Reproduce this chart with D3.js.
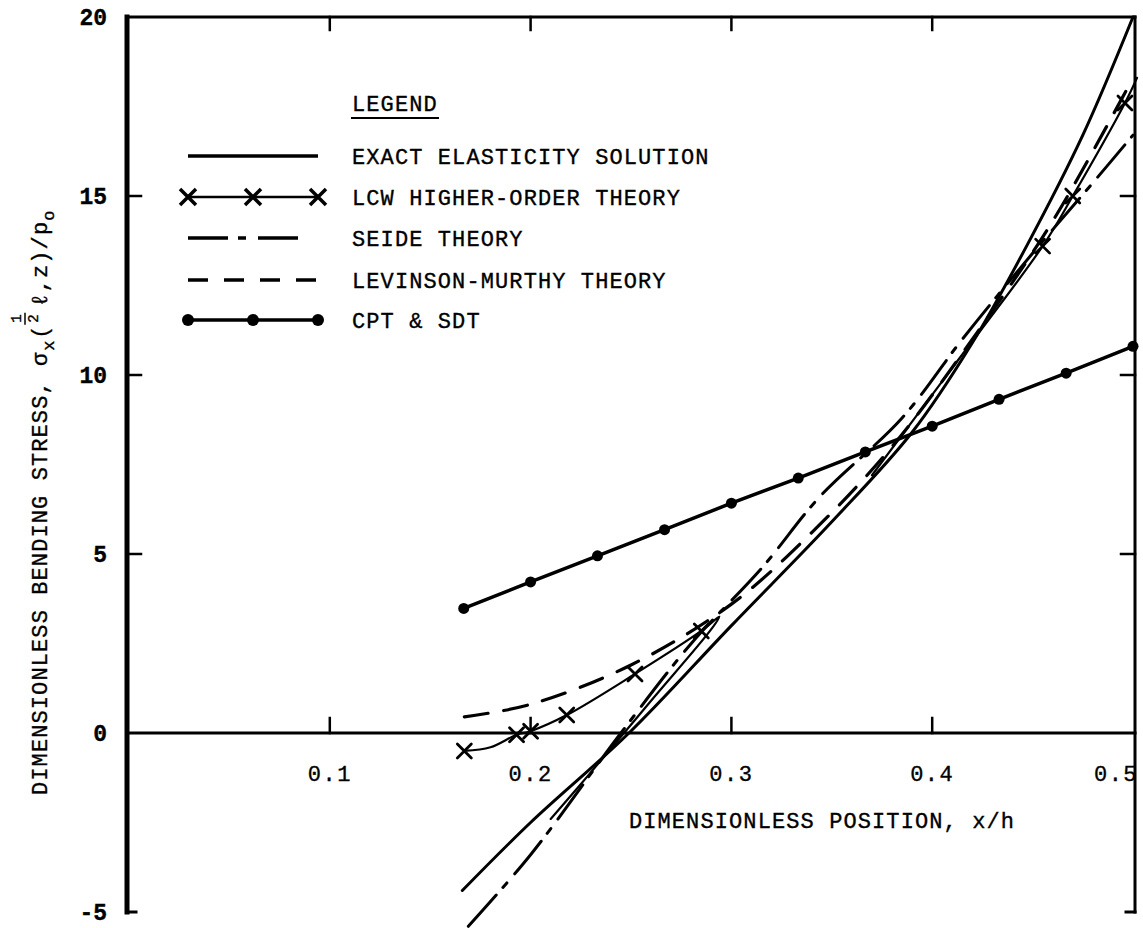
<!DOCTYPE html>
<html>
<head>
<meta charset="utf-8">
<script src="https://d3js.org/d3.v7.min.js"></script>
<style>
  body { margin: 0; background: #fff; }
  text { font-family: "Liberation Mono", "DejaVu Sans Mono", monospace; fill: #000; stroke: #000; stroke-width: 0.35; }
</style>
</head>
<body>
<div id="chart"></div>
<script>
// readings: x = z/h position, y = stress
const xTicks = [0.1, 0.2, 0.3, 0.4, 0.5];
const yTicks = [-5, 0, 5, 10, 15, 20];

const exactX = [0.166, 0.2, 0.249, 0.3, 0.35, 0.39, 0.42, 0.447, 0.475, 0.5];
const exactY = [-4.4, -2.5, 0, 3.0, 5.9, 8.4, 10.9, 13.6, 16.7, 20.0];

const lcwLowX = [0.167, 0.18, 0.193, 0.2, 0.218, 0.252, 0.285, 0.294, 0.29, 0.26, 0.23, 0.21];
const lcwLowY = [-0.5, -0.4, -0.05, 0.05, 0.5, 1.65, 2.85, 3.25, 2.9, 0.9, -1.1, -2.4];
const lcwHighX = [0.37, 0.41, 0.455, 0.47, 0.496, 0.502];
const lcwHighY = [7.2, 10.2, 13.6, 15.0, 17.6, 18.3];
const lcwMarkX = [0.167, 0.193, 0.2, 0.218, 0.252, 0.285, 0.455, 0.47, 0.496];
const lcwMarkY = [-0.5, -0.05, 0.05, 0.5, 1.65, 2.85, 13.6, 15.0, 17.6];

const seideX = [0.169, 0.2, 0.245, 0.28, 0.315, 0.344, 0.385, 0.415, 0.45, 0.482, 0.5];
const seideY = [-5.4, -3.4, 0, 2.5, 4.6, 6.6, 8.8, 11.0, 13.4, 15.5, 16.7];

const levX = [0.167, 0.2, 0.25, 0.3, 0.34, 0.38, 0.42, 0.46, 0.5];
const levY = [0.45, 0.8, 1.9, 3.6, 5.6, 8.0, 11.0, 14.3, 18.3];

const cptX = [0.1667, 0.2, 0.2333, 0.2667, 0.3, 0.3333, 0.3667, 0.4, 0.4333, 0.4667, 0.5];
const cptY = [3.48, 4.22, 4.95, 5.68, 6.42, 7.12, 7.85, 8.57, 9.32, 10.05, 10.8];

const legendLabels = ["EXACT ELASTICITY SOLUTION", "LCW HIGHER-ORDER THEORY", "SEIDE THEORY", "LEVINSON-MURTHY THEORY", "CPT & SDT"];

const W = 1143, H = 928;
const svg = d3.select("#chart").append("svg").attr("width", W).attr("height", H);

const x = d3.scaleLinear().domain([0, 0.5]).range([129, 1133]);
const y = d3.scaleLinear().domain([-5, 20]).range([912, 17]);

const zip = (xs, ys) => xs.map((v, i) => [v, ys[i]]);

// tick labels (drawn first so the right border covers the "5" of 0.5)
svg.append("g").selectAll("text").data(yTicks).join("text")
  .attr("x", 107).attr("y", d => y(d) + 8)
  .attr("text-anchor", "end").attr("font-size", 23).attr("font-weight", "bold")
  .text(d => d);
svg.append("g").selectAll("text").data(xTicks).join("text")
  .attr("x", d => d === 0.5 ? x(d) - 17 : x(d)).attr("y", y(0) + 48)
  .attr("text-anchor", "middle").attr("font-size", 22).attr("letter-spacing", 1.5)
  .text(d => d.toFixed(1));

// frame
const frame = svg.append("g").attr("stroke", "#000").attr("fill", "none").attr("stroke-linecap", "square");
frame.append("line").attr("x1", 127).attr("x2", 127).attr("y1", y(20)).attr("y2", y(-5)).attr("stroke-width", 5);
frame.append("line").attr("x1", 127).attr("x2", 136).attr("y1", y(-5)).attr("y2", y(-5)).attr("stroke-width", 3);
frame.append("line").attr("x1", 127).attr("x2", 1135).attr("y1", y(20)).attr("y2", y(20)).attr("stroke-width", 3);
frame.append("line").attr("x1", 1135).attr("x2", 1135).attr("y1", y(20)).attr("y2", y(-5)).attr("stroke-width", 3);
frame.append("line").attr("x1", 1126).attr("x2", 1135).attr("y1", y(-5)).attr("y2", y(-5)).attr("stroke-width", 3);
frame.append("line").attr("x1", 127).attr("x2", 1135).attr("y1", y(0)).attr("y2", y(0)).attr("stroke-width", 3);

// ticks
[5, 10, 15].forEach(v => {
  frame.append("line").attr("x1", 127).attr("x2", 141).attr("y1", y(v)).attr("y2", y(v)).attr("stroke-width", 2.5);
  frame.append("line").attr("x1", 1135).attr("x2", 1121).attr("y1", y(v)).attr("y2", y(v)).attr("stroke-width", 2.5);
});
xTicks.slice(0, 4).forEach(v => {
  frame.append("line").attr("x1", x(v)).attr("x2", x(v)).attr("y1", y(20)).attr("y2", y(20) + 13).attr("stroke-width", 2.5);
  frame.append("line").attr("x1", x(v)).attr("x2", x(v)).attr("y1", y(0)).attr("y2", y(0) - 15).attr("stroke-width", 2.5);
});

// axis titles
svg.append("text").attr("x", 822).attr("y", 828).attr("text-anchor", "middle")
  .attr("font-size", 22).attr("letter-spacing", 1.1)
  .text("DIMENSIONLESS POSITION, x/h");

const yt = svg.append("g").attr("transform", "translate(47,795) rotate(-90)");
const t1 = yt.append("text").attr("x", 0).attr("y", 0).attr("font-size", 22).attr("letter-spacing", 1.1)
  .text("DIMENSIONLESS BENDING STRESS, σ");
let cx = t1.node().getComputedTextLength() + 1;
yt.append("text").attr("x", cx).attr("y", 7).attr("font-size", 17).text("x");
cx += 12;
yt.append("text").attr("x", cx).attr("y", 0).attr("font-size", 22).text("(");
cx += 14;
yt.append("text").attr("x", cx + 6).attr("y", -26).attr("font-size", 14).attr("text-anchor", "middle").text("1");
yt.append("line").attr("x1", cx).attr("x2", cx + 12).attr("y1", -22).attr("y2", -22).attr("stroke", "#000").attr("stroke-width", 1.5);
yt.append("text").attr("x", cx + 6).attr("y", -9).attr("font-size", 14).attr("text-anchor", "middle").text("2");
cx += 18;
const t2 = yt.append("text").attr("x", cx).attr("y", 0).attr("font-size", 22).attr("letter-spacing", 1.1)
  .text(" ℓ,z)/p");
cx += t2.node().getComputedTextLength();
yt.append("text").attr("x", cx).attr("y", 7).attr("font-size", 17).text("o");

// curves
const line = d3.line().x(d => x(d[0])).y(d => y(d[1])).curve(d3.curveCatmullRom.alpha(0.5));
const plot = svg.append("g").attr("fill", "none").attr("stroke", "#000").attr("stroke-linecap", "round");

plot.append("path").attr("d", line(zip(exactX, exactY))).attr("stroke-width", 3);
plot.append("path").attr("d", line(zip(seideX, seideY))).attr("stroke-width", 3)
  .attr("stroke-dasharray", "42,10,6,12");
plot.append("path").attr("d", line(zip(levX, levY))).attr("stroke-width", 3.2)
  .attr("stroke-dasharray", "24,16");
plot.append("path").attr("d", line(zip(lcwLowX, lcwLowY))).attr("stroke-width", 2.2);
plot.append("path").attr("d", line(zip(lcwHighX, lcwHighY))).attr("stroke-width", 2.2);
plot.append("path").attr("d", d3.line().x(d => x(d[0])).y(d => y(d[1]))(zip(cptX, cptY))).attr("stroke-width", 3.5);

const cross = (g, cxp, cyp, s, w) => {
  g.append("path").attr("d", `M${cxp - s},${cyp - s}L${cxp + s},${cyp + s}M${cxp - s},${cyp + s}L${cxp + s},${cyp - s}`)
    .attr("stroke", "#000").attr("stroke-width", w).attr("fill", "none");
};
zip(lcwMarkX, lcwMarkY).forEach(d => cross(plot, x(d[0]), y(d[1]), 7, 2.8));
plot.selectAll("circle").data(zip(cptX, cptY)).join("circle")
  .attr("cx", d => x(d[0])).attr("cy", d => y(d[1])).attr("r", 5.5)
  .attr("fill", "#000").attr("stroke", "none");

// legend
const lg = svg.append("g");
lg.append("text").attr("x", 352).attr("y", 111).attr("font-size", 22).attr("letter-spacing", 1.1).text("LEGEND");
lg.append("line").attr("x1", 351).attr("x2", 439).attr("y1", 118).attr("y2", 118).attr("stroke", "#000").attr("stroke-width", 2);
const rowY = [156, 197, 238, 280, 320];
legendLabels.forEach((t, i) => {
  lg.append("text").attr("x", 352).attr("y", rowY[i] + 8).attr("font-size", 22).attr("letter-spacing", 1.1).text(t);
});
const lx1 = 188, lx2 = 318;
const seg = (ry, w, dash) => lg.append("line").attr("x1", lx1).attr("x2", lx2).attr("y1", ry).attr("y2", ry)
  .attr("stroke", "#000").attr("stroke-width", w).attr("stroke-dasharray", dash || null);
seg(rowY[0], 3.5);
seg(rowY[1], 2.5);
[lx1, (lx1 + lx2) / 2, lx2].forEach(px => cross(lg, px, rowY[1], 8, 3.5));
seg(rowY[2], 3.5, "40,10,8,12,40");
seg(rowY[3], 3.5, "20,16");
seg(rowY[4], 3.5);
[lx1, (lx1 + lx2) / 2, lx2].forEach(px => lg.append("circle").attr("cx", px).attr("cy", rowY[4]).attr("r", 6));
</script>
</body>
</html>
